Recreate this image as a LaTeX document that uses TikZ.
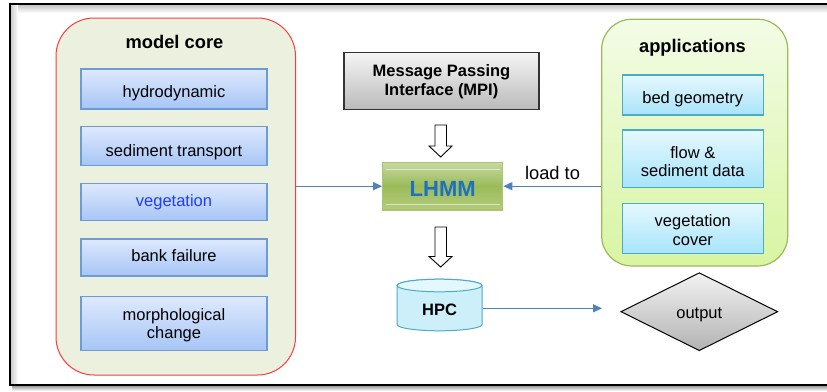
\documentclass[tikz,border=0pt]{standalone}
\usepackage{fontspec}
\setmainfont{Liberation Sans}
\usetikzlibrary{arrows.meta,shapes.geometric,calc}
\definecolor{mcfill}{HTML}{EBF1DE}
\definecolor{mcred}{HTML}{FF3B3B}
\definecolor{bbord}{HTML}{6D9BD3}
\definecolor{btop}{HTML}{DEE9FD}
\definecolor{bbot}{HTML}{A6C5F6}
\definecolor{apbord}{HTML}{9BBB59}
\definecolor{aptop}{HTML}{F3FCE6}
\definecolor{apbot}{HTML}{D8F5A2}
\definecolor{cbord}{HTML}{4BACC6}
\definecolor{ctop}{HTML}{E6F8FE}
\definecolor{cbot}{HTML}{A7E4FA}
\definecolor{lgtop}{HTML}{C6D9A0}
\definecolor{lgmid}{HTML}{9BBB59}
\definecolor{lgbot}{HTML}{B3CC7E}
\definecolor{lhmmtxt}{HTML}{1F70C1}
\definecolor{vegblue}{HTML}{1F3DFF}
\definecolor{arr}{HTML}{4F81BD}
\definecolor{hpcfill}{HTML}{CDEFFA}
\definecolor{hpctop}{HTML}{E4F7FD}
\tikzset{
  x=1pt, y=-1pt,
  txt/.style={font=\fontsize{16.5}{19.5}\selectfont, align=center},
  ls/.style={font=\fontsize{16.5}{#1}\selectfont},
  ttl/.style={font=\fontsize{18.3}{21}\selectfont\bfseries, anchor=base},
  mbox/.style={txt, draw=bbord, line width=1.2pt, top color=btop, bottom color=bbot, inner sep=0pt},
  abox/.style={txt, draw=cbord, line width=1.2pt, top color=ctop, bottom color=cbot, inner sep=0pt},
  link/.style={draw=arr, line width=1.3pt, -{Triangle[length=9pt,width=8pt]}},
  hollow/.style={draw=black, line width=0.9pt, fill=white},
}
\begin{document}
\begin{tikzpicture}
\useasboundingbox (0,0) rectangle (827,391);
\fill[white] (0,0) rectangle (827,391);
% frame with shadow
\shade[top color=black!25, bottom color=white] (10,4) rectangle (827,13);
\shade[left color=black!22, right color=white] (10,4) rectangle (18,385);
\shade[top color=black!45, bottom color=white] (12,385) rectangle (827,391);
\draw[line width=1.6pt] (830,4) -- (10,4) -- (10,385) -- (830,385);

% model core
\node[draw=mcred, line width=1pt, fill=mcfill, rounded corners=38pt, minimum width=239.5, minimum height=357, inner sep=0pt] (mc) at (175.75,196.5) {};
\node[ttl] (mct) at (174.5,48) {model core};
\node[mbox, minimum width=186, minimum height=40, text height=16.2, text depth=0] (hyd) at (174,89) {hydrodynamic};
\node[mbox, minimum width=186, minimum height=39, text height=20, text depth=0] (sed) at (174,146.2) {sediment transport};
\node[mbox, minimum width=186, minimum height=37.5, text height=8.6, text depth=0, text=vegblue] (veg) at (174,202) {vegetation};
\node[mbox, minimum width=186, minimum height=37, text height=8.6, text depth=0] (bank) at (174,257.5) {bank failure};
\node[mbox, ls=17.4, minimum width=186, minimum height=54, text height=28.6, text depth=0] (morph) at (174,323.7) {morphological\\change};

% applications
\node[draw=apbord, line width=1.2pt, top color=aptop, bottom color=apbot, rounded corners=30pt, minimum width=186, minimum height=246.7, inner sep=0pt] (apps) at (694.7,142.6) {};
\node[ttl] (appt) at (692.5,52.5) {applications};
\node[abox, minimum width=141, minimum height=40, text height=16.6, text depth=0] (bed) at (692.8,95) {bed geometry};
\node[abox, ls=18.4, minimum width=141, minimum height=57.3, text height=36, text depth=0] (flow) at (692.8,158.7) {flow \&\\sediment data};
\node[abox, ls=18.3, minimum width=141, minimum height=50, text height=33.4, text depth=0] (vcov) at (692.8,228.3) {vegetation\\cover};

% MPI
\node[txt, font=\fontsize{16.5}{19}\selectfont\bfseries, draw=black!80, line width=1.2pt, top color=black!4, bottom color=black!27, minimum width=195, minimum height=56.6, inner sep=0pt, text height=28, text depth=0] (mpi) at (441.5,81) {Message Passing\\Interface (MPI)};

% LHMM
\shade[top color=lgtop, bottom color=lgmid] (382.7,162.3) rectangle (502.7,186.2);
\shade[top color=lgmid, bottom color=lgbot] (382.7,186.2) rectangle (502.7,210);
\draw[white, opacity=0.55, line width=0.8pt] (386,169.5) -- (499.5,169.5);
\draw[white, opacity=0.55, line width=0.8pt] (386,204) -- (499.5,204);
\node[draw=lgmid!85!white, line width=1.2pt, minimum width=120, minimum height=47.7, inner sep=0pt, font=\fontsize{22}{26}\selectfont\bfseries, text=lhmmtxt, text height=21, text depth=0] (lhmm) at (442.7,186.2) {LHMM};

% hollow arrows
\draw[hollow] (435,125) -- (446.5,125) -- (446.5,146) -- (452,146) -- (440.7,157) -- (429,146) -- (435,146) -- cycle;
\draw[hollow] (435,227) -- (446.5,227) -- (446.5,256.5) -- (452,256.5) -- (440.7,267) -- (429,256.5) -- (435,256.5) -- cycle;

% HPC cylinder
\filldraw[draw=cbord, line width=1pt, fill=hpcfill] (397,285.5) -- (397,324.5) arc[start angle=180, end angle=0, x radius=42.5, y radius=6.3] -- (482,285.5) arc[start angle=0, end angle=-180, x radius=42.5, y radius=6.3] -- cycle;
\filldraw[draw=cbord, line width=1pt, fill=hpctop] (439.5,285.5) ellipse [x radius=42.5, y radius=6.3];
\node[txt, font=\fontsize{16.5}{19.5}\selectfont\bfseries, minimum width=86, minimum height=30, inner sep=0pt, text height=13.4, text depth=0] (hpc) at (439.5,308.3) {HPC};

% output diamond
\node[diamond, aspect=2, draw=black, line width=1pt, top color=black!5, bottom color=black!30, minimum width=157, minimum height=78, inner sep=0pt, txt, text height=13.2, text depth=0] (out) at (699.3,311.7) {output};
\coordinate (outin) at (602,308.3);

% connectors
\draw[link] (mc.east |- lhmm.west) -- (lhmm.west);
\draw[link] (apps.west |- lhmm.east) -- (lhmm.east);
\node[font=\fontsize{18.3}{21}\selectfont, anchor=base] (loadto) at (552.5,179.3) {load to};
\draw[link] (hpc.east) -- (outin);
\end{tikzpicture}
\end{document}
